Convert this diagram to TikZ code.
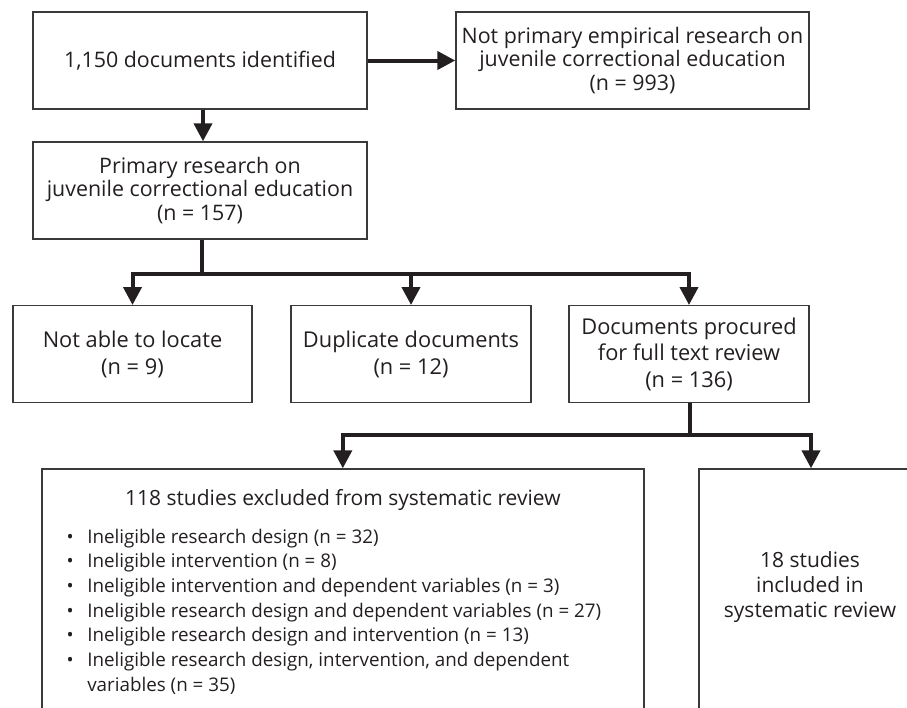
\documentclass[tikz,border=0pt]{standalone}
\usepackage{fontspec}
\setmainfont{Open Sans}
\usetikzlibrary{arrows.meta,positioning}
\definecolor{ink}{HTML}{231F20}
\definecolor{rim}{HTML}{3A3A3A}

\begin{document}
\begin{tikzpicture}[x=1pt, y=-1pt,
  box/.style={rectangle, draw=rim, line width=1.4pt, inner sep=0pt, align=center, text=ink, font=\fontsize{21.4}{23.4}\selectfont},
  nbox/.style={box, font=\fontsize{21.8}{26.5}\selectfont},
  txt/.style={inner sep=0pt, text=ink, align=center, font=\fontsize{21}{25}\selectfont},
  ln/.style={line width=4pt, ink},
  arr/.style={ln, -{Triangle[length=18pt, width=18pt]}}
]
  \useasboundingbox (0,0) rectangle (907,707);
  \clip (0,0) rectangle (907,707);

  % Identification
  \node[box, minimum width=334, minimum height=97] (ident) at (200,60.5) {1,150 documents identified};
  \node[box, minimum width=353, minimum height=97] (notprim) at (632.5,60.5) {Not primary empirical research on\\juvenile correctional education\\(n = 993)};
  \node[box, minimum width=334, minimum height=97] (prim) at (200,190.5) {Primary research on\\juvenile correctional education\\(n = 157)};
  \draw[arr] (ident.east) -- (notprim.west);
  \draw[arr] ([xshift=3]ident.south) -- ([xshift=3]prim.north);

  % Screening
  \node[nbox, minimum width=239, minimum height=97] (locate) at (132.5,354.2) {Not able to locate\\(n = 9)};
  \node[nbox, minimum width=240, minimum height=97] (dupl) at (411,354.2) {Duplicate documents\\(n = 12)};
  \node[nbox, minimum width=240, minimum height=97] (procured) at (689,354.2) {Documents procured\\for full text review\\(n = 136)};
  \draw[ln] ([xshift=2]prim.south) -- ++(0,34) coordinate (split1);
  \draw[arr] (split1) -| (locate.north);
  \draw[arr] (split1) -| (procured.north);
  \draw[arr] (split1 -| dupl.north) -- (dupl.north);

  % Eligibility
  \node[box, minimum width=602, minimum height=300] (excl) at (342.8,619) {};
  \node[box, minimum width=224, minimum height=300] (incl) at (811,619) {};
  \draw[ln] ([xshift=1]procured.south) -- ++(0,32) coordinate (split2);
  \draw[arr] (split2) -| (excl.north);
  \draw[arr] (split2) -| (incl.north);

  \node[txt, anchor=base] (excltitle) at (342.8,505.5) {118 studies excluded from systematic review};
  \node[txt, anchor=base west, align=left, font=\fontsize{18.8}{24.7}\selectfont] (excllist) at (66.5,543) {%
    \begin{tabular}[t]{@{}l@{\hspace{13.5pt}}l@{}}
      \textbullet & Ineligible research design (n = 32)\\
      \textbullet & Ineligible intervention (n = 8)\\
      \textbullet & Ineligible intervention and dependent variables (n = 3)\\
      \textbullet & Ineligible research design and dependent variables (n = 27)\\
      \textbullet & Ineligible research design and intervention (n = 13)\\
      \textbullet & Ineligible research design, intervention, and dependent\\
                  & variables (n = 35)
    \end{tabular}};
  \node[txt] (incltext) at (810,587) {18 studies\\included in\\systematic review};
\end{tikzpicture}
\end{document}
